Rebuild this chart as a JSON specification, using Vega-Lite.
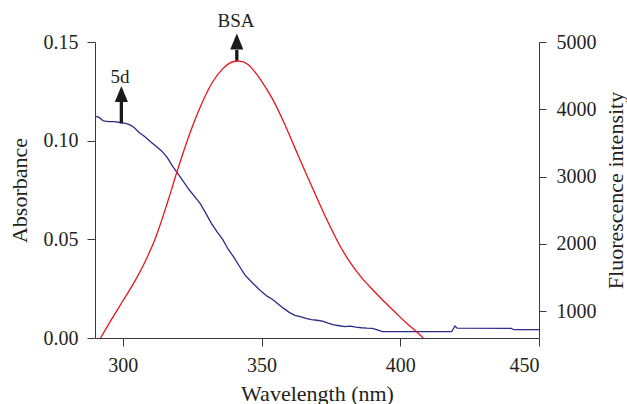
{
  "$schema": "https://vega.github.io/schema/vega-lite/v6.json",
  "width": 444,
  "height": 296,
  "autosize": "none",
  "padding": {"left": 95, "top": 42, "right": 88, "bottom": 66},
  "background": "white",
  "config": {
    "view": {"stroke": null},
    "axis": {
      "grid": false,
      "labelFont": "Liberation Serif",
      "titleFont": "Liberation Serif",
      "labelFontSize": 20,
      "titleFontSize": 22,
      "titleFontWeight": "normal",
      "labelColor": "#231f20",
      "titleColor": "#231f20",
      "domainColor": "#3a3a3a",
      "tickColor": "#3a3a3a",
      "tickSize": 8,
      "labelPadding": 9
    },
    "text": {"font": "Liberation Serif"}
  },
  "datasets": {
    "abs": [
      {"wl": 290, "a": 0.1125}, {"wl": 291.5, "a": 0.1118}, {"wl": 293, "a": 0.1100}, {"wl": 295, "a": 0.1096},
      {"wl": 297, "a": 0.1096}, {"wl": 299, "a": 0.1092}, {"wl": 301, "a": 0.1088}, {"wl": 302.6, "a": 0.1080},
      {"wl": 304, "a": 0.1068}, {"wl": 306, "a": 0.1040}, {"wl": 308, "a": 0.1020}, {"wl": 310, "a": 0.0995},
      {"wl": 312, "a": 0.0972}, {"wl": 314, "a": 0.0948}, {"wl": 316, "a": 0.0915}, {"wl": 318, "a": 0.0870},
      {"wl": 320, "a": 0.0830}, {"wl": 322, "a": 0.0790}, {"wl": 324, "a": 0.0750}, {"wl": 326, "a": 0.0715},
      {"wl": 328, "a": 0.0680}, {"wl": 330, "a": 0.0630}, {"wl": 332, "a": 0.0580}, {"wl": 334, "a": 0.0538},
      {"wl": 336, "a": 0.0500}, {"wl": 338, "a": 0.0450}, {"wl": 340, "a": 0.0410}, {"wl": 342, "a": 0.0365},
      {"wl": 344, "a": 0.0320}, {"wl": 346, "a": 0.0290}, {"wl": 348, "a": 0.0262}, {"wl": 350, "a": 0.0235},
      {"wl": 352, "a": 0.0212}, {"wl": 354, "a": 0.0195}, {"wl": 356, "a": 0.0172}, {"wl": 358, "a": 0.0150},
      {"wl": 360, "a": 0.0130}, {"wl": 362, "a": 0.0115}, {"wl": 364, "a": 0.0108}, {"wl": 366, "a": 0.0100},
      {"wl": 368, "a": 0.0093}, {"wl": 370, "a": 0.0090}, {"wl": 372, "a": 0.0086}, {"wl": 374, "a": 0.0075},
      {"wl": 376, "a": 0.0066}, {"wl": 378, "a": 0.0062}, {"wl": 380, "a": 0.0058}, {"wl": 382, "a": 0.0060},
      {"wl": 384, "a": 0.0055}, {"wl": 386, "a": 0.0052}, {"wl": 388, "a": 0.0050}, {"wl": 390, "a": 0.0049},
      {"wl": 392, "a": 0.0040}, {"wl": 393.5, "a": 0.0032}, {"wl": 418.5, "a": 0.0032}, {"wl": 419.2, "a": 0.0048},
      {"wl": 419.7, "a": 0.0061}, {"wl": 420.5, "a": 0.0050}, {"wl": 440, "a": 0.0049}, {"wl": 441, "a": 0.0042},
      {"wl": 450, "a": 0.0042}
    ],
    "fl": [
      {"wl": 292, "f": 600}, {"wl": 296, "f": 880}, {"wl": 300, "f": 1150}, {"wl": 304, "f": 1420},
      {"wl": 308, "f": 1730}, {"wl": 312, "f": 2110}, {"wl": 316, "f": 2600}, {"wl": 320, "f": 3130},
      {"wl": 324, "f": 3620}, {"wl": 328, "f": 4040}, {"wl": 332, "f": 4380}, {"wl": 336, "f": 4600},
      {"wl": 340, "f": 4710}, {"wl": 342, "f": 4715}, {"wl": 345, "f": 4670}, {"wl": 350, "f": 4420},
      {"wl": 354, "f": 4150}, {"wl": 358, "f": 3810}, {"wl": 362, "f": 3430}, {"wl": 366, "f": 3050},
      {"wl": 370, "f": 2680}, {"wl": 374, "f": 2320}, {"wl": 378, "f": 1990}, {"wl": 382, "f": 1720},
      {"wl": 386, "f": 1500}, {"wl": 390, "f": 1320}, {"wl": 394, "f": 1150}, {"wl": 398, "f": 990},
      {"wl": 402, "f": 830}, {"wl": 406, "f": 690}, {"wl": 408.3, "f": 600}
    ],
    "shafts": [
      {"wl": 299.5, "a0": 0.1088, "a1": 0.1200},
      {"wl": 341.1, "a0": 0.1405, "a1": 0.1460}
    ],
    "heads": [
      {"wl": 299.5, "a": 0.1237},
      {"wl": 341.1, "a": 0.1502}
    ],
    "labels": [
      {"wl": 299.0, "a": 0.1291, "t": "5d"},
      {"wl": 340.8, "a": 0.1578, "t": "BSA"}
    ]
  },
  "layer": [
    {
      "layer": [
        {
          "data": {"name": "abs"},
          "mark": {"type": "line", "color": "#2b2b8a", "strokeWidth": 1.3, "clip": true},
          "encoding": {
            "x": {"field": "wl", "type": "quantitative", "scale": {"domain": [290, 450], "nice": false},
              "axis": {"title": "Wavelength (nm)", "values": [300, 350, 400, 450], "titlePadding": 8}},
            "y": {"field": "a", "type": "quantitative", "scale": {"domain": [0, 0.15], "nice": false},
              "axis": {"title": "Absorbance", "values": [0, 0.05, 0.1, 0.15], "format": ".2f", "titlePadding": 12}}
          }
        },
        {
          "data": {"name": "shafts"},
          "mark": {"type": "rule", "color": "#1a1a1a", "strokeWidth": 3.3},
          "encoding": {
            "x": {"field": "wl", "type": "quantitative"},
            "y": {"field": "a0", "type": "quantitative", "scale": {"domain": [0, 0.15], "nice": false}},
            "y2": {"field": "a1"}
          }
        },
        {
          "data": {"name": "heads"},
          "mark": {"type": "point", "shape": "M-0.82,1L0,-1L0.82,1Z", "size": 256, "filled": true, "color": "#1a1a1a", "opacity": 1},
          "encoding": {
            "x": {"field": "wl", "type": "quantitative"},
            "y": {"field": "a", "type": "quantitative", "scale": {"domain": [0, 0.15], "nice": false}}
          }
        },
        {
          "data": {"name": "labels"},
          "mark": {"type": "text", "fontSize": 19, "color": "#231f20", "baseline": "alphabetic", "align": "center"},
          "encoding": {
            "x": {"field": "wl", "type": "quantitative"},
            "y": {"field": "a", "type": "quantitative", "scale": {"domain": [0, 0.15], "nice": false}},
            "text": {"field": "t"}
          }
        }
      ]
    },
    {
      "data": {"name": "fl"},
      "mark": {"type": "line", "color": "#e8141c", "strokeWidth": 1.3, "clip": true, "interpolate": "monotone"},
      "encoding": {
        "x": {"field": "wl", "type": "quantitative"},
        "y": {"field": "f", "type": "quantitative", "scale": {"domain": [600, 5000], "nice": false, "zero": false},
          "axis": {"orient": "right", "title": "Fluorescence intensity", "values": [1000, 2000, 3000, 4000, 5000], "format": "d", "titleAngle": 270, "titleBaseline": "top", "titlePadding": 9, "tickSize": 7, "labelPadding": 10}}
      }
    }
  ],
  "resolve": {"scale": {"y": "independent"}}
}
